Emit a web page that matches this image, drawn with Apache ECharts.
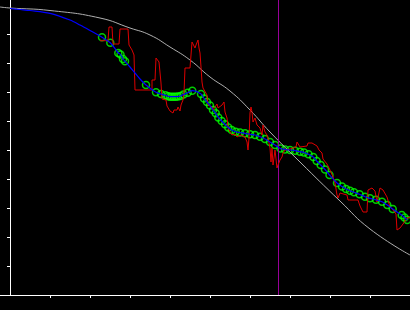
<!DOCTYPE html>
<html>
<head>
<meta charset="utf-8">
<script src="https://cdn.jsdelivr.net/npm/echarts@6/dist/echarts.min.js"></script>
<style>html,body{margin:0;padding:0;background:#000;}#c{width:410px;height:310px;}</style>
</head>
<body>
<div id="c"></div>
<script>
// x: units along the time axis (tick every 40), y: height above the baseline (tick every 29)
const xTicks = [40, 80, 120, 160, 200, 240, 280, 320, 360, 400];
const yTicks = [29, 58, 87, 116, 145, 174, 203, 232, 261];
const markerX = 268.5;

const grayCurve = [[-10,288],[0,287],[40,284.5],[90,277],[120,267],[140,260],[160,248],[180,235],[200,218],[220,204],[240,185],[260,163],[290,133],[330,94],[360,66],[400,40]];

const blueLead = [[0,286.5],[10,285.5],[20,284.5],[40,281.7],[60,275],[70,270],[80,264.5]];
const blueGap = [[120,228],[125,222],[130,216]];

const circles = [[92,257.7],[100.3,252.3],[108.3,242],[110.5,240.5],[113,236],[115,233.7],
[136,210],[146,202.7],[151,201],[155.5,199.7],[158,198.7],[160,198.3],[162,198.3],[164,198.3],[166,198.3],[168,198.5],[170.5,199],[173.5,200.5],[177.7,202.3],[182.3,204.3],
[191,201],[194,196.5],[197,193],[200,189.5],[203,185],[205.7,181.7],[208.3,177.5],[211.7,174],[215,170.7],[218.3,167.5],[221.7,165],[225.7,163.3],[230,162.5],[235,161.7],[240,160.7],[245,160],[250,158.3],[255,156],[260,153],[265,150],[270.5,146.5],[275,145.5],[280,145],[285,144.3],[290,143.3],[294,142.5],[298.5,140.7],[303.3,138],[306.7,134],[310.7,130],[315,125.5],[319.5,120],
[327,112],[332,108.5],[336,106],[340,104.3],[344,102.7],[349.5,100.7],[355,98.3],[360,96.7],[366,95.2],[372,93.2],[377.3,90],[382.7,86],
[391.7,80],[394.5,77.5],[397.3,75]];

const redSignal = [[90,254.3],[98,254.3],[99,268],[102,268],[103,251],[109,251],[110,266],[118,266],[119,250],[121,250],[122,245],[124,240],[125,205],[142,205],[142,215],[145,215],[146,237],[148,238],[149,233],[150,233],[151,212],[152,196],[156,195],[157,189],[159,189],[160,184],[163,182],[164,185],[167,185],[168,188],[170,184],[171,190],[173,195],[174,202],[175,227],[180,227],[181,240],[182,253],[184,253],[185,247],[186,250],[187,249],[188,255],[189,247],[190,242],[191,228],[192,213],[193,207],[195,206],[197,200],[198,190],[202,188],[203,185],[207,191],[208,187],[212,190],[214,193],[215,183],[217,177],[218,168],[220,163],[222,160],[225,161],[227,158],[230,160],[235,158],[237,153],[238,145],[239,157],[240,182],[241,188],[242,183],[243,173],[245,177],[247,170],[248,172],[250,167],[252,160],[253,170],[255,163],[257,160],[258,157],[260,147],[261,133],[262,147],[263,130],[265,145],[267,127],[268,130],[270,135],[272,138],[273,142],[275,145],[280,146],[283,147],[286,148],[287,153],[289,153],[290,148],[297,149],[298,152],[302,152],[304,153],[307,149],[309,145],[312,142],[313,136],[317,131],[320,125],[323,118],[325,112],[327,100],[328,97],[330,102],[332,102],[337,100],[338,95],[348,95],[350,89],[353,83],[357,83],[358,105],[362,107],[365,104],[367,93],[369,93],[370,107],[373,105],[377,98],[380,88],[383,85],[386,81],[387,65],[390,67],[393,71],[395,73],[397,77],[400,78]];

const blueLine = blueLead.concat(circles.slice(0, 6), blueGap, circles.slice(6));

const chart = echarts.init(document.getElementById('c'), null, {renderer: 'canvas'});
chart.setOption({
  backgroundColor: '#000000',
  animation: false,
  grid: {left: 0, right: 0, top: 0, bottom: 15, containLabel: false},
  xAxis: {
    type: 'value', min: -10, max: 400,
    axisLine: {show: true, onZero: true, lineStyle: {color: '#ffffff', width: 1}},
    axisTick: {show: true, length: 3, customValues: xTicks, lineStyle: {color: '#ffffff'}},
    axisLabel: {show: false},
    splitLine: {show: false}
  },
  yAxis: {
    type: 'value', min: 0, max: 295,
    axisLine: {show: true, onZero: true, lineStyle: {color: '#ffffff', width: 1}},
    axisTick: {show: true, length: 3, customValues: yTicks, lineStyle: {color: '#ffffff'}},
    axisLabel: {show: false},
    splitLine: {show: false}
  },
  series: [
    {type: 'line', data: grayCurve, smooth: true, showSymbol: false, clip: false,
     lineStyle: {color: '#b0b0b0', width: 1}},
    {type: 'line', data: [[markerX, 0], [markerX, 295]], showSymbol: false,
     lineStyle: {color: '#990099', width: 1}},
    {type: 'line', data: redSignal, showSymbol: false,
     lineStyle: {color: '#dd0000', width: 1}},
    {type: 'line', data: blueLine, smooth: 0.3, showSymbol: false,
     lineStyle: {color: '#0000ff', width: 1.2}},
    {type: 'scatter', data: circles, symbol: 'circle', symbolSize: 7,
     itemStyle: {color: 'rgba(0,0,0,0)', borderColor: '#00ff00', borderWidth: 1.5}}
  ]
});
</script>
</body>
</html>
